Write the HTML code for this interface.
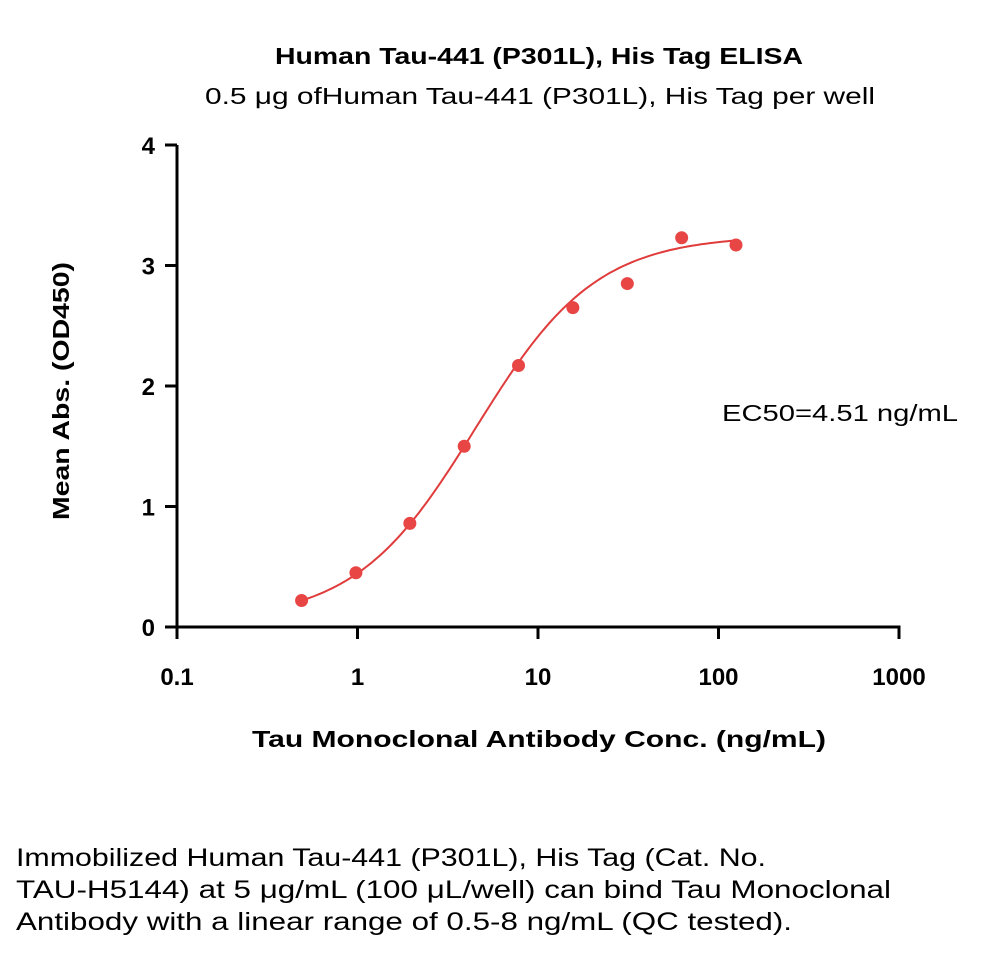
<!DOCTYPE html>
<html><head><meta charset="utf-8"><style>
body{margin:0;background:#fff;}
svg text{font-family:"Liberation Sans",sans-serif;}
</style></head><body>
<svg width="1000" height="953" viewBox="0 0 1000 953" xmlns="http://www.w3.org/2000/svg">
<text x="275" y="64" font-size="23" font-weight="bold" textLength="528" lengthAdjust="spacingAndGlyphs">Human Tau-441 (P301L), His Tag ELISA</text>
<text x="205" y="104" font-size="23" textLength="670" lengthAdjust="spacingAndGlyphs">0.5 μg ofHuman Tau-441 (P301L), His Tag per well</text>
<g id="axes"></g>
<g id="marks"></g>
<text x="722" y="421" font-size="23" textLength="236" lengthAdjust="spacingAndGlyphs">EC50=4.51 ng/mL</text>
<text x="252" y="747" font-size="23" font-weight="bold" textLength="574" lengthAdjust="spacingAndGlyphs">Tau Monoclonal Antibody Conc. (ng/mL)</text>
<text transform="translate(69,520) rotate(-90)" font-size="23" font-weight="bold" textLength="258" lengthAdjust="spacingAndGlyphs">Mean Abs. (OD450)</text>
<g font-size="25">
<text x="16" y="866" textLength="750" lengthAdjust="spacingAndGlyphs">Immobilized Human Tau-441 (P301L), His Tag (Cat. No.</text>
<text x="16" y="898" textLength="875" lengthAdjust="spacingAndGlyphs">TAU-H5144) at 5 μg/mL (100 μL/well) can bind Tau Monoclonal</text>
<text x="16" y="930" textLength="776" lengthAdjust="spacingAndGlyphs">Antibody with a linear range of 0.5-8 ng/mL (QC tested).</text>
</g>
</svg>
<script>
const concentrations=[0.49,0.98,1.95,3.9,7.8,15.6,31.25,62.5,125];
const absorbances=[0.22,0.45,0.86,1.50,2.17,2.65,2.85,3.23,3.17];
const xTicks=[0.1,1,10,100,1000];
const xTickLabels=["0.1","1","10","100","1000"];
const yTicks=[0,1,2,3,4];
const fitBottom=0.05, fitTop=3.25, fitEC50=4.51, fitHill=1.3;
const NS="http://www.w3.org/2000/svg";
const x=v=>177+(Math.log10(v)+1)*180.5;
const y=v=>627-v*120.5;
function mk(tag,attrs,parent){const e=document.createElementNS(NS,tag);for(const k in attrs)e.setAttribute(k,attrs[k]);parent.appendChild(e);return e;}
const ax=document.getElementById('axes'), mg=document.getElementById('marks');
let l=mk('line',{x1:177,y1:y(4),x2:177,y2:y(0)+1.5,stroke:'#000','stroke-width':3},ax);


l=mk('line',{x1:175.5,y1:y(0),x2:x(1000)+1.5,y2:y(0),stroke:'#000','stroke-width':3},ax);


yTicks.forEach(v=>{
 const t=mk('line',{x1:165,y1:y(v),x2:177,y2:y(v),stroke:'#000','stroke-width':3},ax);
 
 
 const tx=mk('text',{x:155,y:y(v)+9,'text-anchor':'end','font-size':24,'font-weight':'bold'},ax);
 tx.textContent=v;
 
 
});
xTicks.forEach((v,i)=>{
 const t=mk('line',{x1:x(v),y1:y(0),x2:x(v),y2:y(0)+12,stroke:'#000','stroke-width':3},ax);
 
 
 const tx=mk('text',{x:x(v),y:685,'text-anchor':'middle','font-size':24,'font-weight':'bold'},ax);
 tx.textContent=xTickLabels[i];
 
 
});
let d='';
const lo=Math.log10(concentrations[0]),hi=Math.log10(concentrations[concentrations.length-1]);
for(let i=0;i<=100;i++){const c=Math.pow(10,lo+(hi-lo)*i/100);const v=fitBottom+(fitTop-fitBottom)/(1+Math.pow(fitEC50/c,fitHill));d+=(i?'L':'M')+x(c).toFixed(1)+','+y(v).toFixed(1);}
const p=mk('path',{d:d,fill:'none',stroke:'#e03c3c','stroke-width':2},mg);


concentrations.forEach((c,i)=>{
 const pt=mk('circle',{cx:x(c),cy:y(absorbances[i]),r:6.5,fill:'#e84545'},mg);
 
 
});
</script>
</body></html>
